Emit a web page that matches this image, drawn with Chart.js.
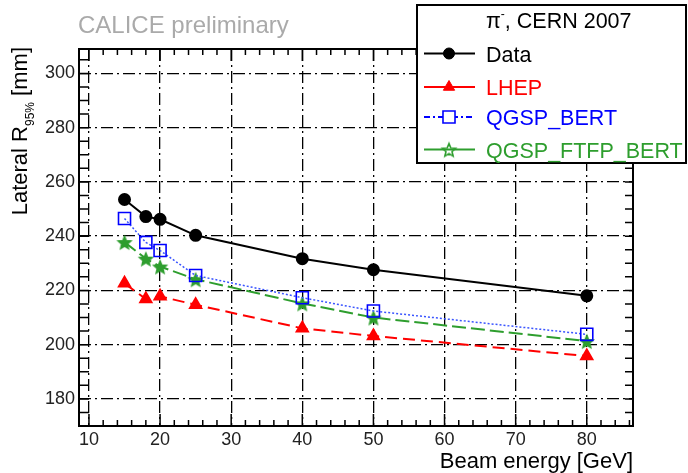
<!DOCTYPE html>
<html><head><meta charset="utf-8">
<script src="https://cdn.jsdelivr.net/npm/chart.js@4/dist/chart.umd.min.js"></script>
<style>html,body{margin:0;padding:0;background:#fff}canvas{display:block}</style>
</head><body>
<canvas id="c" width="688" height="473"></canvas>
<script>
// ---- data ----
const energies = [15, 18, 20, 25, 40, 50, 80];
const dataR    = [253.5, 247.2, 246.2, 240.3, 231.7, 227.6, 218.0];
const lhepR    = [222.6, 216.8, 217.8, 214.7, 206.0, 203.2, 195.8];
const bertR    = [246.5, 237.7, 234.7, 225.5, 217.3, 212.4, 203.8];
const ftfpR    = [237.8, 231.7, 228.8, 224.1, 215.2, 210.0, 201.3];
const seriesNames = ['Data', 'LHEP', 'QGSP_BERT', 'QGSP_FTFP_BERT'];
const xTickValues = [10, 20, 30, 40, 50, 60, 70, 80];
const yTickValues = [180, 200, 220, 240, 260, 280, 300];
const xTitle = 'Beam energy [GeV]';
const yTitleMain = 'Lateral R', yTitleSub = '95%', yTitleEnd = ' [mm]';
const legendTitle = ', CERN 2007';
const watermark = 'CALICE preliminary';

const F = '"Liberation Sans", Arial, Helvetica, sans-serif';
const GREEN = '#2e9e2e';

function makeStar(color, R, filled) {
  const c = document.createElement('canvas');
  const s = Math.ceil(R * 2 + 4);
  c.width = s; c.height = s;
  const g = c.getContext('2d');
  g.translate(s / 2, s / 2 + 1);
  g.beginPath();
  for (let i = 0; i < 10; i++) {
    const r = i % 2 === 0 ? R : R * 0.45;
    const ang = -Math.PI / 2 + i * Math.PI / 5;
    const px = r * Math.cos(ang), py = r * Math.sin(ang);
    if (i === 0) g.moveTo(px, py); else g.lineTo(px, py);
  }
  g.closePath();
  if (filled) { g.fillStyle = color; g.fill(); }
  g.strokeStyle = color; g.lineWidth = filled ? 1.2 : 1.6; g.stroke();
  return c;
}
const starImg = makeStar(GREEN, 7, true);
const starOpen = makeStar(GREEN, 7, false);

const pts = arr => energies.map((e, i) => ({x: e, y: arr[i]}));

const datasets = [
  {label: seriesNames[0], data: pts(dataR), borderColor: '#000', backgroundColor: '#000',
   borderWidth: 2, pointStyle: 'circle', pointRadius: 5.5, pointBackgroundColor: '#000', pointBorderColor: '#000',
   legendDash: [], legendFill: '#000', legendStyle: 'circle'},
  {label: seriesNames[1], data: pts(lhepR), borderColor: '#ff0000', backgroundColor: '#ff0000',
   borderWidth: 2, borderDash: [12, 6], pointStyle: 'triangle', pointRadius: 6.5,
   pointBackgroundColor: '#ff0000', pointBorderColor: '#ff0000', legendDash: [], legendFill: '#ff0000', legendStyle: 'triangle'},
  {label: seriesNames[2], data: pts(bertR), borderColor: '#3a55ff', backgroundColor: '#0000ff',
   borderWidth: 1.5, borderDash: [2, 2], pointStyle: 'rect', pointRadius: 8.5,
   pointBackgroundColor: 'rgba(255,255,255,0)', pointBorderColor: '#0000ff', pointBorderWidth: 1.6,
   legendDash: [6, 3, 2, 3], legendFill: '#fff', legendStyle: 'rect'},
  {label: seriesNames[3], data: pts(ftfpR), borderColor: GREEN, backgroundColor: GREEN,
   borderWidth: 2, borderDash: [14, 5], pointStyle: starImg, pointRadius: 7,
   legendDash: [], legendFill: GREEN, legendStyle: starOpen}
];

const deco = {
  id: 'deco',
  afterDraw(chart) {
    const {ctx, chartArea: a, scales: {x, y}} = chart;
    ctx.save();
    // inward tick marks
    ctx.strokeStyle = '#000'; ctx.lineWidth = 1.5;
    ctx.beginPath();
    for (let v = 10; v <= x.max; v += 2) {
      const px = x.getPixelForValue(v);
      const L = v % 10 === 0 ? 12 : 6;
      ctx.moveTo(px, a.bottom); ctx.lineTo(px, a.bottom - L);
      ctx.moveTo(px, a.top); ctx.lineTo(px, a.top + L);
    }
    for (let v = 170; v <= y.max; v += 5) {
      const py = y.getPixelForValue(v);
      ctx.moveTo(a.left, py); ctx.lineTo(a.left + 10, py);
      ctx.moveTo(a.right, py); ctx.lineTo(a.right - 8, py);
    }
    ctx.stroke();
    // frame
    ctx.lineWidth = 2;
    ctx.strokeRect(a.left, a.top, a.right - a.left, a.bottom - a.top);

    // watermark
    ctx.fillStyle = '#aaaaaa';
    ctx.font = '24px ' + F; ctx.textAlign = 'left'; ctx.textBaseline = 'alphabetic';
    ctx.fillText(watermark, 78, 33);

    // x title
    ctx.fillStyle = '#000';
    ctx.font = '22px ' + F; ctx.textAlign = 'right';
    ctx.fillText(xTitle, a.right, 468);

    // y title (rotated, with subscript)
    ctx.save();
    ctx.translate(27, 47);
    ctx.rotate(-Math.PI / 2);
    ctx.textAlign = 'left';
    ctx.font = '22px ' + F; const w1 = ctx.measureText(yTitleMain).width, w3 = ctx.measureText(yTitleEnd).width;
    ctx.font = '12px ' + F; const w2 = ctx.measureText(yTitleSub).width;
    let sx = -(w1 + w2 + w3);
    ctx.font = '22px ' + F; ctx.fillText(yTitleMain, sx, 0); sx += w1;
    ctx.font = '12px ' + F; ctx.fillText(yTitleSub, sx, 7); sx += w2;
    ctx.font = '22px ' + F; ctx.fillText(yTitleEnd, sx, 0);
    ctx.restore();

    // legend box
    const L = {l: 417, t: 5, r: 686, b: 163};
    ctx.fillStyle = '#fff';
    ctx.fillRect(L.l, L.t, L.r - L.l, L.b - L.t);
    ctx.strokeStyle = '#000'; ctx.lineWidth = 2;
    ctx.strokeRect(L.l, L.t, L.r - L.l, L.b - L.t);
    // legend title
    ctx.fillStyle = '#000'; ctx.textAlign = 'left';
    ctx.font = '21.5px ' + F;
    let tx = 486;
    ctx.fillText('\u03c0', tx, 28); tx += ctx.measureText('\u03c0').width;
    ctx.font = '12px ' + F; ctx.fillText('-', tx, 18); tx += ctx.measureText('-').width;
    ctx.font = '21.5px ' + F; ctx.fillText(legendTitle, tx, 28);
    // entries
    const rowY = [53.5, 87, 117, 149.5];
    chart.data.datasets.forEach((ds, i) => {
      const yy = rowY[i];
      const col = ds.pointBorderColor || ds.borderColor;
      ctx.strokeStyle = col;
      ctx.lineWidth = 2;
      ctx.setLineDash(ds.legendDash);
      ctx.beginPath(); ctx.moveTo(424, yy); ctx.lineTo(475, yy); ctx.stroke();
      ctx.setLineDash([]);
      ctx.fillStyle = ds.legendFill;
      ctx.strokeStyle = col;
      ctx.lineWidth = ds.pointBorderWidth || 1;
      Chart.helpers.drawPoint(ctx, {pointStyle: ds.legendStyle, radius: ds.pointRadius, rotation: 0,
        borderWidth: ds.pointBorderWidth || 1}, 449, yy);
      ctx.fillStyle = ds.backgroundColor;
      ctx.font = '21.5px ' + F;
      ctx.fillText(ds.label, 486, yy + 8);
    });
    ctx.restore();
  }
};

new Chart(document.getElementById('c'), {
  type: 'line',
  data: {datasets},
  options: {
    responsive: false,
    animation: false,
    devicePixelRatio: 1,
    layout: {padding: {left: 0, right: 55, top: 49, bottom: 0}},
    plugins: {legend: {display: false}, tooltip: {enabled: false}, title: {display: false}},
    scales: {
      x: {
        type: 'linear', min: 8.6, max: 86.5,
        afterBuildTicks: s => { s.ticks = xTickValues.map(v => ({value: v})); },
        afterFit: s => { s.height = 47; },
        grid: {color: '#000', lineWidth: 1.3, drawTicks: false},
        border: {display: false, dash: [12, 4, 2, 4]},
        ticks: {color: '#222', font: {family: F, size: 18}, padding: 3, maxRotation: 0,
                callback: v => String(v)}
      },
      y: {
        type: 'linear', min: 170, max: 309,
        afterBuildTicks: s => { s.ticks = yTickValues.map(v => ({value: v})); },
        afterFit: s => { s.width = 79; },
        grid: {color: '#000', lineWidth: 1.3, drawTicks: false},
        border: {display: false, dash: [12, 4, 2, 4]},
        ticks: {color: '#222', font: {family: F, size: 18}, padding: 4,
                callback: v => String(v)}
      }
    }
  },
  plugins: [deco]
});
</script>
</body></html>
